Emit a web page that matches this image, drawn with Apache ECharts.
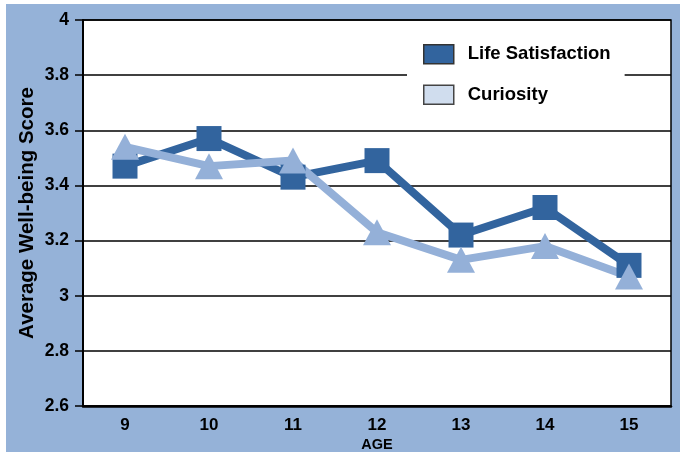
<!DOCTYPE html>
<html>
<head>
<meta charset="utf-8">
<script src="https://cdn.jsdelivr.net/npm/echarts@6/dist/echarts.min.js"></script>
<style>
  html, body { margin: 0; padding: 0; background: #fff; }
  #chart { width: 680px; height: 452px; }
</style>
</head>
<body>
<div id="chart"></div>
<script>
var ages = ['9', '10', '11', '12', '13', '14', '15']
var lifeSatisfaction = [3.47, 3.57, 3.43, 3.49, 3.22, 3.32, 3.11]
var curiosity = [3.54, 3.47, 3.49, 3.23, 3.13, 3.18, 3.07]

var bgBlue = '#95b2d8'
var darkBlue = '#32649e'
var lightBlue = '#94b0d8'
var font = '"Liberation Sans", Arial, sans-serif'

var chart = echarts.init(document.getElementById('chart'))
chart.setOption({
    animation: false,
    backgroundColor: '#fff',
    graphic: [{
        type: 'rect', z: -10, silent: true,
        shape: {x: 6, y: 4, width: 674, height: 448},
        style: {fill: bgBlue}
    }],
    grid: {
        left: 83, top: 20, right: 9, bottom: 46,
        outerBoundsMode: 'none',
        show: true, backgroundColor: '#fff',
        borderColor: '#000', borderWidth: 1.5
    },
    legend: {
        orient: 'vertical',
        left: 407, top: 30,
        padding: [14, 14, 14, 16],
        backgroundColor: '#fff',
        itemWidth: 30, itemHeight: 19, itemGap: 20,
        icon: 'rect',
        textStyle: {fontFamily: font, fontWeight: 'bold', fontSize: 18.5, color: '#000', padding: [0, 0, 0, 9]},
        data: [
            {name: 'Life Satisfaction', itemStyle: {color: darkBlue, borderColor: '#333', borderWidth: 1.5}},
            {name: 'Curiosity', itemStyle: {color: '#d0ddee', borderColor: '#444', borderWidth: 1.5}}
        ]
    },
    xAxis: {
        type: 'category',
        data: ages,
        boundaryGap: true,
        name: 'AGE',
        nameLocation: 'middle',
        nameGap: 31,
        nameMoveOverlap: false,
        nameTextStyle: {fontFamily: font, fontWeight: 'bold', fontSize: 14.5, color: '#000'},
        axisLine: {lineStyle: {color: '#000', width: 2.5}},
        axisTick: {length: 9, lineStyle: {color: '#000', width: 2}},
        axisLabel: {fontFamily: font, fontWeight: 'bold', fontSize: 17, color: '#000', margin: 11}
    },
    yAxis: {
        type: 'value',
        min: 2.6, max: 4, interval: 0.2,
        name: 'Average Well-being Score',
        nameLocation: 'middle',
        nameGap: 45,
        nameMoveOverlap: false,
        nameTextStyle: {fontFamily: font, fontWeight: 'bold', fontSize: 20.5, color: '#000'},
        axisLine: {show: true, lineStyle: {color: '#000', width: 2}},
        axisTick: {show: true, length: 8, lineStyle: {color: '#000', width: 1.5}},
        splitLine: {lineStyle: {color: '#000', width: 1.5}},
        axisLabel: {
            fontFamily: font, fontWeight: 'bold', fontSize: 17.5, color: '#000', margin: 14,
            formatter: function (v) { return String(Math.round(v * 10) / 10) }
        }
    },
    series: [
        {
            name: 'Life Satisfaction',
            type: 'line',
            data: lifeSatisfaction,
            symbol: 'rect',
            symbolSize: 25,
            lineStyle: {color: darkBlue, width: 8},
            itemStyle: {color: darkBlue}
        },
        {
            name: 'Curiosity',
            type: 'line',
            data: curiosity,
            symbol: 'triangle',
            symbolSize: [28, 26],
            lineStyle: {color: lightBlue, width: 8},
            itemStyle: {color: lightBlue}
        }
    ]
})
</script>
</body>
</html>
